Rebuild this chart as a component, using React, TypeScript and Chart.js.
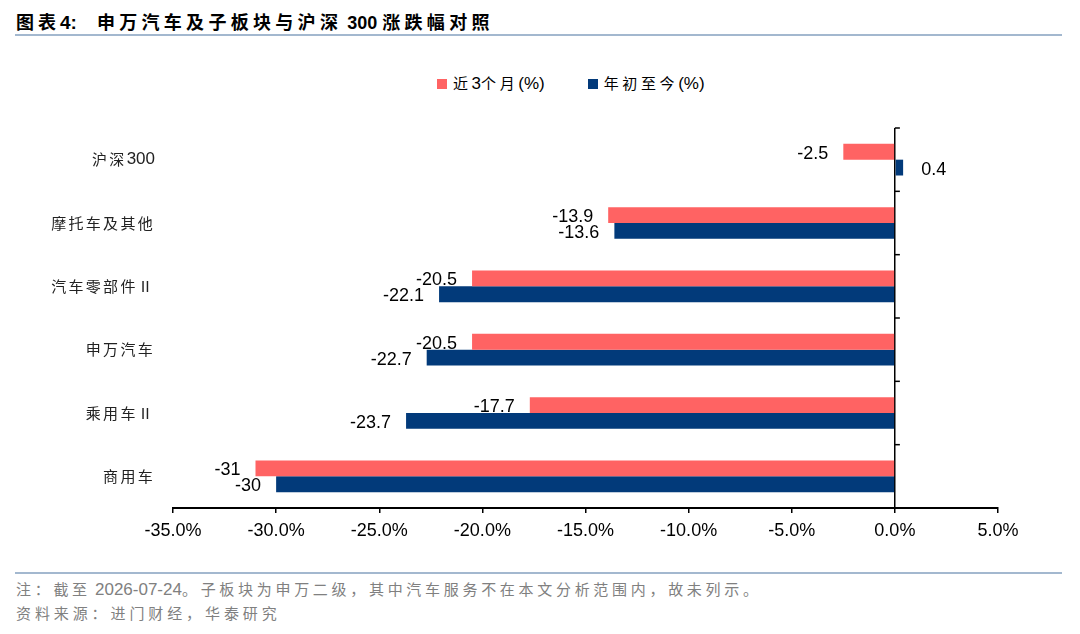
import { useEffect, useRef } from 'react';
import { Chart, registerables } from 'chart.js';

Chart.register(...registerables);

const categories = ['沪深300', '摩托车及其他', '汽车零部件Ⅱ', '申万汽车', '乘用车Ⅱ', '商用车'];
const recent3m = [-2.5, -13.9, -20.5, -20.5, -17.7, -31];
const ytd = [0.4, -13.6, -22.1, -22.7, -23.7, -30];
const seriesNames = ['近3个月(%)', '年初至今(%)'];
const seriesColors = ['#FF6363', '#023A7A'];
const xMin = -35;
const xMax = 5;
const xStep = 5;

const LATIN = '"Liberation Sans", Arial, "Noto Sans CJK SC", sans-serif';
const CJK = '"Noto Sans CJK SC", sans-serif';
const LINE_COLOR = '#A3B8CF';

// split text into runs: ascii (no extra spacing) and CJK (spaced out)
const runs = (s: string) => s.split(/([\x00-\x7F]+)/).filter((r) => r.length > 0);
const isAscii = (s: string) => /^[\x00-\x7F]+$/.test(s);

// small tick marks on the zero line, pointing right, at category boundaries
const zeroTicks = {
  id: 'zeroTicks',
  afterDatasetsDraw(chart: any) {
    const { ctx, scales } = chart;
    const x0 = scales.x.getPixelForValue(0);
    ctx.save();
    ctx.strokeStyle = '#000';
    ctx.lineWidth = 1.5;
    for (let i = 0; i <= categories.length; i++) {
      const y = scales.y.getPixelForValue(i - 0.5);
      ctx.beginPath();
      ctx.moveTo(x0, y);
      ctx.lineTo(x0 + 5, y);
      ctx.stroke();
    }
    ctx.restore();
  },
};

// value labels at the bar ends
const valueLabels = {
  id: 'valueLabels',
  afterDatasetsDraw(chart: any) {
    const { ctx } = chart;
    ctx.save();
    ctx.font = `18px ${LATIN}`;
    ctx.fillStyle = '#000';
    ctx.textBaseline = 'middle';
    chart.data.datasets.forEach((ds: any, d: number) => {
      const meta = chart.getDatasetMeta(d);
      meta.data.forEach((bar: any, i: number) => {
        const v = ds.data[i];
        if (v < 0) {
          ctx.textAlign = 'right';
          ctx.fillText(String(v), bar.x - 15, bar.y + 2);
        } else {
          ctx.textAlign = 'left';
          ctx.fillText(String(v), bar.x + 18, bar.y + 2);
        }
      });
    });
    ctx.restore();
  },
};

// category names on the left, CJK characters spaced like the original
const categoryLabels = {
  id: 'categoryLabels',
  afterDraw(chart: any) {
    const { ctx, scales, chartArea } = chart;
    const spacing = 2.3;
    ctx.save();
    ctx.fillStyle = '#222';
    ctx.textAlign = 'left';
    ctx.textBaseline = 'middle';
    const fontFor = (p: string) => (isAscii(p) ? `17px ${LATIN}` : `15px ${CJK}`);
    chart.data.labels.forEach((label: string, i: number) => {
      const parts = runs(label);
      const widths = parts.map((p) => {
        ctx.font = fontFor(p);
        (ctx as any).letterSpacing = '0px';
        const w = ctx.measureText(p).width;
        return isAscii(p) ? w : w + spacing * p.length;
      });
      let x = chartArea.left - 18 - widths.reduce((a, b) => a + b, 0);
      const y = scales.y.getPixelForValue(i);
      parts.forEach((p, k) => {
        ctx.font = fontFor(p);
        (ctx as any).letterSpacing = isAscii(p) ? '0px' : `${spacing}px`;
        ctx.fillText(p, x, y);
        x += widths[k];
      });
    });
    ctx.restore();
  },
};

function BarChart() {
  const canvasRef = useRef<HTMLCanvasElement>(null);
  const chartRef = useRef<Chart | null>(null);

  useEffect(() => {
    if (!canvasRef.current) return;
    chartRef.current = new Chart(canvasRef.current, {
      type: 'bar',
      data: {
        labels: categories,
        datasets: [
          { label: seriesNames[0], data: recent3m, backgroundColor: seriesColors[0] },
          { label: seriesNames[1], data: ytd, backgroundColor: seriesColors[1] },
        ],
      },
      options: {
        indexAxis: 'y',
        responsive: false,
        animation: false,
        devicePixelRatio: 1,
        categoryPercentage: 0.5,
        barPercentage: 1,
        layout: { padding: { left: 173, right: 82, top: 28, bottom: 22 } },
        plugins: {
          legend: { display: false },
          tooltip: { enabled: false },
        },
        scales: {
          x: {
            min: xMin,
            max: xMax,
            afterFit: (scale: any) => {
              scale.height = 40;
            },
            ticks: {
              stepSize: xStep,
              padding: 7,
              color: '#000',
              font: { family: LATIN, size: 18 },
              callback: (v: any) => Number(v).toFixed(1) + '%',
            },
            grid: {
              drawOnChartArea: true,
              drawTicks: true,
              tickLength: 5,
              color: (c: any) => (c.tick && c.tick.value === 0 ? '#000' : 'rgba(0,0,0,0)'),
              tickColor: '#000',
              lineWidth: 1.5,
              tickWidth: 1.5,
            },
            border: { display: true, color: '#000', width: 2 },
          },
          y: {
            display: false,
          },
        },
      },
      plugins: [zeroTicks, valueLabels, categoryLabels],
    });
    return () => {
      chartRef.current?.destroy();
      chartRef.current = null;
    };
  }, []);

  return <canvas ref={canvasRef} width={1080} height={470} />;
}

function Spaced({ text, spacing, asciiSize }: { text: string; spacing: string; asciiSize?: number }) {
  return (
    <>
      {runs(text).map((p, k) =>
        isAscii(p) ? (
          <span key={k} style={{ letterSpacing: 0, fontSize: asciiSize }}>
            {p}
          </span>
        ) : (
          <span key={k} style={{ letterSpacing: spacing, fontFamily: CJK }}>
            {p}
          </span>
        )
      )}
    </>
  );
}

export default function App() {
  return (
    <div
      style={{
        position: 'absolute',
        left: 0,
        top: 0,
        width: 1080,
        height: 634,
        background: '#fff',
        overflow: 'hidden',
        fontFamily: LATIN,
      }}
    >
      <div
        style={{
          position: 'absolute',
          left: 16,
          top: 10,
          fontSize: 18,
          fontWeight: 'bold',
          lineHeight: '22px',
          whiteSpace: 'nowrap',
          color: '#000',
        }}
      >
        <Spaced text="图表4:" spacing="4px" asciiSize={19} />
        <span style={{ marginLeft: 20 }}>
          <Spaced text="申万汽车及子板块与沪深 300 涨跌幅对照" spacing="4.3px" />
        </span>
      </div>
      <div style={{ position: 'absolute', left: 15, top: 34, width: 1047, height: 2, background: LINE_COLOR }} />

      <div
        style={{
          position: 'absolute',
          left: 437,
          top: 73,
          display: 'flex',
          alignItems: 'center',
          fontSize: 15,
          lineHeight: '20px',
          whiteSpace: 'nowrap',
          color: '#000',
        }}
      >
        {seriesNames.map((name, i) => (
          <div key={name} style={{ display: 'flex', alignItems: 'center', marginRight: i === 0 ? 43 : 0 }}>
            <span style={{ width: 10, height: 10, background: seriesColors[i], marginRight: 6, display: 'inline-block' }} />
            <span>
              <Spaced text={name} spacing="3.6px" asciiSize={17} />
            </span>
          </div>
        ))}
      </div>

      <div style={{ position: 'absolute', left: 0, top: 100, width: 1080, height: 470 }}>
        <BarChart />
      </div>

      <div style={{ position: 'absolute', left: 15, top: 572, width: 1047, height: 2, background: LINE_COLOR }} />
      <div
        style={{
          position: 'absolute',
          left: 16,
          top: 578,
          fontSize: 15,
          lineHeight: '21px',
          color: '#808080',
          whiteSpace: 'nowrap',
        }}
      >
        <div>
          <Spaced text="注：截至 " spacing="3.7px" />
          <span style={{ fontSize: 17 }}>2026-07-24</span>
          <Spaced text="。子板块为申万二级，其中汽车服务不在本文分析范围内，故未列示。" spacing="3.7px" />
        </div>
        <div style={{ marginTop: 2 }}>
          <Spaced text="资料来源：进门财经，华泰研究" spacing="3.9px" />
        </div>
      </div>
    </div>
  );
}
